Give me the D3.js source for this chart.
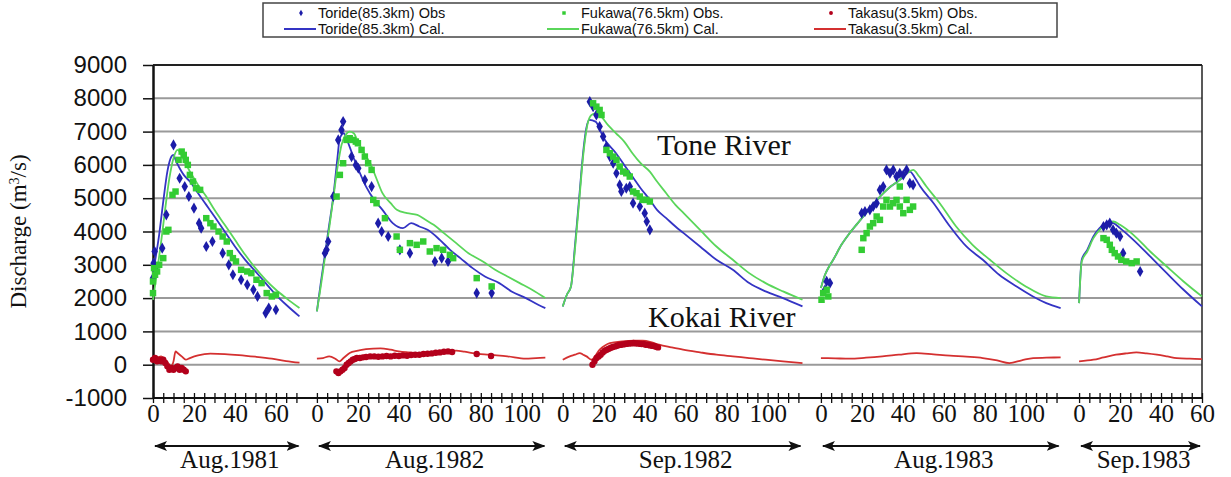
<!DOCTYPE html>
<html>
<head>
<meta charset="utf-8">
<script src="https://cdn.jsdelivr.net/npm/d3@7"></script>
<style>
  body { margin: 0; background: #fff; }
  svg { display: block; }
  .ylab text { font-family: "Liberation Sans", Arial, sans-serif; font-size: 24px; fill: #111; }
  .xlab text { font-family: "Liberation Serif", "Times New Roman", serif; font-size: 25px; fill: #111; }
  .serif { font-family: "Liberation Serif", "Times New Roman", serif; fill: #111; }
  .legend text { font-family: "Liberation Sans", Arial, sans-serif; font-size: 14.5px; fill: #111; }
</style>
</head>
<body>
<svg id="chart" width="1231" height="477"></svg>
<script>
// events on the common hour axis
const events = ['Aug.1981', 'Aug.1982', 'Sep.1982', 'Aug.1983', 'Sep.1983']
const eventOffset = [0, 80, 200, 326, 452]
const eventLength = [72, 112, 117, 117, 60]
const xTickLabels = [
  [0, 20, 40, 60],
  [0, 20, 40, 60, 80, 100],
  [0, 20, 40, 60, 80, 100],
  [0, 20, 40, 60, 80, 100],
  [0, 20, 40, 60]
]
const yTicks = [-1000, 0, 1000, 2000, 3000, 4000, 5000, 6000, 7000, 8000, 9000]

const seriesNames = ['Toride(85.3km) Obs', 'Fukawa(76.5km) Obs.', 'Takasu(3.5km) Obs.',
  'Toride(85.3km) Cal.', 'Fukawa(76.5km) Cal.', 'Takasu(3.5km) Cal.']

// [hour from event start, discharge m3/s], one list per event
const torideObs = [
  [[0, 2600], [0.3, 3050], [0.8, 3400], [1, 2900], [4.5, 3500], [6.5, 4500], [10, 6600], [13, 5600], [15.5, 5350],
    [17.5, 5050], [20, 4700], [22.5, 4250], [23.5, 4100], [26, 3550], [29, 3700], [34, 3350], [37, 3000], [39, 2700],
    [43, 2550], [46, 2400], [49, 2250], [51, 2050], [55, 1550], [56.5, 1700], [60, 1650]],
  [[3.9, 3350], [4.7, 3450], [5.5, 3700], [8, 5050], [10.4, 6750], [12, 7050], [12.8, 7300], [16.9, 6250], [19, 6000],
    [20.2, 5900], [23.4, 5550], [26.7, 5350], [29.9, 4250], [31.6, 4000], [34.8, 3850], [40.5, 3450], [45.4, 3350],
    [57.6, 3100], [60.9, 3200], [64, 3100], [78, 2150], [85.3, 2150]],
  [[13.2, 7900], [14.8, 7750], [16.4, 7500], [18, 7150], [19.7, 6850], [21.3, 6550], [23, 6250], [24.6, 6050],
    [26.2, 5750], [27.8, 5400], [28.6, 5200], [31, 5300], [32.7, 5350], [34.3, 4850], [37.6, 4750], [40, 4550],
    [41, 4300], [42.5, 4050]],
  [[2, 2250], [2.8, 2500], [4.4, 2450], [19.9, 4550], [21.5, 4600], [23.9, 4650], [25.5, 4750], [27.2, 4850],
    [28.8, 5250], [30.4, 5350], [32, 5850], [33.7, 5750], [35.3, 5850], [36.9, 5650], [38.5, 5750], [40.2, 5700],
    [41.8, 5850], [43.4, 5450], [45, 5400]],
  [[11.9, 4150], [13.5, 4200], [15, 4250], [16.6, 4050], [18.2, 3950], [20, 3850], [21.5, 3350], [29.8, 2800]]
]
const fukawaObs = [
  [[0, 2150], [0, 2500], [0.5, 2900], [1, 2700], [2, 2800], [3, 3000], [5, 3200], [6.5, 4000], [7.5, 4050], [9.5, 5100],
    [11, 5200], [12.5, 6150], [14, 6400], [15, 6300], [16, 6150], [17, 6000], [18, 5700], [19.5, 5500], [21, 5300],
    [23, 5250], [26, 4400], [28, 4250], [29.5, 4150], [32, 4000], [34, 3850], [36, 3700], [37.5, 3350], [39, 3200],
    [40.5, 3100], [43, 2850], [46, 2800], [48, 2750], [50.5, 2550], [53, 2450], [55.5, 2150], [58, 2050], [60, 2100]],
  [[9.6, 5050], [11.2, 5700], [12.8, 6050], [14.5, 6750], [16, 6800], [17.5, 6750], [19, 6700], [20, 6650],
    [21.8, 6450], [23.4, 6250], [25, 6050], [26.7, 5850], [27.5, 4950], [29.1, 4850], [33.2, 4400], [38.9, 3850],
    [40.5, 3450], [45.4, 3650], [48.7, 3600], [51.9, 3700], [55.1, 3400], [58.4, 3500], [61.6, 3450], [64.9, 3300],
    [66.5, 3200], [78, 2600], [85.3, 2350]],
  [[14.8, 7850], [16.4, 7750], [18, 7650], [18.9, 7500], [21.3, 6450], [23, 6350], [24.6, 6250], [26.2, 6150],
    [27.8, 5950], [29.5, 5800], [31, 5750], [32.7, 5650], [34.3, 5200], [36, 5150], [37.6, 5050], [39, 4950],
    [40.8, 4950], [42.5, 4900]],
  [[0.3, 1950], [1.1, 2150], [2.8, 2250], [3.6, 2050], [19.9, 3450], [20.7, 3800], [22.3, 3950], [23.9, 4150],
    [25.5, 4250], [27.2, 4450], [28.8, 4350], [30.4, 4750], [32, 4950], [33.7, 4750], [35.3, 4850], [36.9, 4950],
    [38.5, 4750], [38.5, 5350], [40.2, 4550], [41.8, 4950], [43.4, 4650], [45, 4750]],
  [[11.9, 3800], [13.5, 3750], [15, 3600], [16, 3450], [17.4, 3350], [19, 3250], [20.6, 3150], [23, 3100],
    [25.7, 3050], [28.1, 3100]]
]
const takasuObs = [
  [[0, 150], [1, 200], [2, 100], [3, 150], [4, 100], [5, 150], [6, 50], [7, -50], [8, -150], [9, -100], [10, -150],
    [11, -100], [12, -50], [13, -150], [14, -100], [15, -150], [16, -200]],
  [[9.5, -200], [10.5, -250], [11.5, -200], [12.5, -150], [13.5, -100], [14.5, 0], [15.5, 50], [16.5, 100],
    [17.5, 150], [18.5, 170], [19.5, 200], [21, 200], [22.5, 220], [24, 230], [26, 250], [28, 250], [30, 240],
    [32, 250], [34, 260], [36, 250], [38, 270], [40, 260], [42, 280], [44, 270], [46, 290], [48, 300], [50, 300],
    [52, 320], [54, 330], [56, 340], [58, 360], [60, 370], [62, 390], [64, 400], [66, 380], [78, 320], [85, 260]],
  [[14.5, 0], [15.5, 100], [16.5, 200], [17.5, 250], [18.5, 300], [19.5, 370], [20.5, 420], [21.5, 450],
    [22.5, 480], [23.5, 510], [24.5, 530], [25.5, 550], [26.5, 570], [27.5, 590], [28.5, 600], [29.5, 610],
    [30.5, 620], [31.5, 630], [32.5, 640], [33.5, 640], [34.5, 650], [35.5, 640], [36.5, 640], [37.5, 630],
    [38.5, 620], [39.5, 620], [40.5, 600], [41.5, 600], [42.5, 580], [43.5, 570], [44.5, 560], [45.5, 540],
    [46.5, 520]],
  [],
  []
]
const torideCal = [
  [[0, 2700], [1, 3100], [3, 3900], [5, 4900], [7, 5800], [9, 6250], [10, 6300], [11, 6150], [13, 5900], [15, 5700],
    [18, 5500], [22, 5150], [26, 4800], [30, 4450], [35, 4000], [40, 3550], [45, 3150], [50, 2800], [55, 2450],
    [60, 2100], [65, 1800], [71.5, 1450]],
  [[0, 1600], [2, 2500], [4, 3350], [6, 4200], [8, 5050], [10, 6200], [11, 6750], [12, 6900], [13, 6950], [15, 6700],
    [18, 6200], [21, 5750], [24, 5350], [28, 4950], [32, 4650], [37, 4250], [42, 4100], [46, 4250], [50, 4150],
    [54, 4050], [60, 3750], [65, 3450], [70, 3200], [76, 2900], [82, 2650], [89, 2450], [95, 2200], [102, 2000],
    [108, 1800], [111.5, 1700]],
  [[0, 1750], [2, 2100], [4, 2350], [6, 3600], [8, 5000], [10, 6400], [11.5, 7100], [13, 7350], [16, 7300],
    [20, 6800], [26, 6350], [30, 6000], [34, 5650], [38, 5300], [42.5, 4950], [46, 4650], [50.5, 4400], [55, 4150],
    [59, 3950], [67, 3550], [75, 3150], [83, 2850], [91, 2450], [99, 2200], [107.5, 2000], [117, 1750]],
  [[0, 2300], [2, 2700], [4, 2950], [6, 3150], [10, 3600], [14, 3950], [18, 4250], [22, 4550], [26, 4850],
    [30.5, 5150], [34, 5350], [38.5, 5550], [41, 5700], [43.5, 5800], [46, 5600], [48.5, 5350], [55, 4850],
    [63, 4150], [71, 3550], [79, 3150], [87, 2700], [95.5, 2350], [103.5, 2050], [110, 1850], [117, 1700]],
  [[0, 1850], [1.3, 3150], [4, 3450], [7, 3850], [10, 4100], [13, 4250], [15, 4300], [17, 4250], [20, 4100],
    [26.5, 3750], [34.7, 3250], [42.8, 2750], [51, 2250], [60, 1750]]
]
const fukawaCal = [
  [[0, 1950], [2, 2800], [4, 3700], [6, 4700], [8, 5600], [10, 6200], [12, 6450], [13, 6400], [15, 6150], [18, 5800],
    [22, 5400], [26, 5050], [30, 4650], [35, 4200], [40, 3750], [45, 3300], [50, 2900], [55, 2550], [60, 2250],
    [65, 2000], [71.5, 1700]],
  [[0, 1600], [2, 2400], [4, 3250], [6, 4100], [8, 5000], [10, 5900], [12, 6600], [14, 6900], [16, 7000], [18, 6950],
    [20, 6700], [23, 6350], [26, 6050], [29, 5600], [32, 5150], [36, 4850], [39, 4650], [44, 4550], [49, 4500],
    [53, 4350], [57, 4200], [62, 3950], [68, 3650], [74, 3350], [81, 3100], [87, 2850], [93, 2650], [99, 2450],
    [105, 2250], [111.5, 2000]],
  [[0, 1750], [2, 2100], [4, 2350], [6, 3500], [8, 4900], [10, 6300], [12, 7200], [14, 7500], [16, 7550], [18, 7500],
    [22, 7200], [26, 6950], [30, 6700], [34, 6350], [38, 6050], [42.5, 5800], [46, 5500], [50.5, 5150], [55, 4800],
    [59, 4550], [67, 4050], [75, 3550], [83, 3150], [91, 2750], [99, 2450], [107.5, 2200], [117, 1950]],
  [[0, 2300], [2, 2700], [4, 2950], [6, 3150], [10, 3600], [14, 3950], [18, 4250], [22, 4550], [26, 4850],
    [30.5, 5150], [34, 5350], [38.5, 5550], [42, 5750], [45, 5850], [48, 5650], [51.5, 5350], [58, 4850], [66, 4150],
    [74, 3600], [82.5, 3150], [90.5, 2750], [100, 2350], [110, 2050], [117, 2000]],
  [[0, 1850], [1.3, 3100], [4, 3400], [7, 3800], [10, 4050], [13, 4200], [16.6, 4300], [20, 4200], [26.5, 3900],
    [34.7, 3400], [42.8, 2950], [51, 2500], [60, 2050]]
]
const takasuCal = [
  [[0, 150], [2, 200], [4, 250], [6, 150], [8, 0], [9, -50], [10, 100], [11, 400], [12, 350], [14, 250], [16, 150],
    [18, 200], [22, 280], [28, 330], [35, 320], [42, 290], [50, 240], [58, 180], [65, 110], [71.5, 60]],
  [[0, 180], [3, 200], [6, 250], [9, 180], [11, 100], [13, 200], [16, 350], [20, 420], [24, 470], [31, 490], [36, 450],
    [40, 400], [45, 370], [49, 350], [57, 370], [63, 400], [68, 420], [72, 390], [76, 350], [84, 300], [93, 250],
    [102, 180], [107, 200], [111.5, 210]],
  [[0, 150], [3.4, 250], [6, 300], [8.3, 350], [10, 300], [11.6, 250], [14, 150], [18, 450], [23, 650], [29, 700],
    [35, 720], [39, 720], [43, 680], [47, 600], [53, 520], [58.7, 450], [67, 370], [75, 300], [83, 250], [91, 200],
    [99, 150], [107.5, 100], [117, 50]],
  [[0, 200], [7, 190], [14, 180], [22, 210], [30, 250], [38, 300], [46.7, 350], [55, 310], [63, 270], [71, 240],
    [79, 200], [86, 130], [92, 50], [98, 130], [103.6, 200], [110, 210], [117, 220]],
  [[0, 100], [7, 150], [12, 220], [18, 300], [23, 340], [28, 370], [33, 340], [38, 300], [43, 250], [47.7, 200],
    [54, 180], [60, 170]]
]

const colors = { toride: '#1c1ca8', torideLine: '#3434c4', fukawa: '#33cc33', fukawaLine: '#5ad65a', takasu: '#b3001b', takasuLine: '#d43030' }

const svg = d3.select('#chart')
const margin = { left: 153, right: 29, top: 65, bottom: 79 }
const W = 1231, H = 477

const x = d3.scaleLinear().domain([0, 512]).range([margin.left, W - margin.right])
const y = d3.scaleLinear().domain([-1000, 9000]).range([H - margin.bottom, margin.top])

// grid
svg.append('g')
  .selectAll('line')
  .data(yTicks.filter(v => v > -1000 && v < 9000))
  .join('line')
    .attr('x1', x(0)).attr('x2', x(512))
    .attr('y1', d => y(d)).attr('y2', d => y(d))
    .attr('stroke', '#9a9a9a').attr('stroke-width', 2)

// frame top and right
svg.append('line').attr('x1', x(0)).attr('x2', x(512)).attr('y1', y(9000)).attr('y2', y(9000))
  .attr('stroke', '#222').attr('stroke-width', 2)
svg.append('line').attr('x1', x(512)).attr('x2', x(512)).attr('y1', y(9000)).attr('y2', y(-1000))
  .attr('stroke', '#222').attr('stroke-width', 1.5)

// y axis
const yAxis = svg.append('g')
    .attr('class', 'ylab')
    .attr('transform', `translate(${x(0)},0)`)
    .call(d3.axisLeft(y).tickValues(yTicks).tickSize(10).tickSizeOuter(0).tickPadding(16)
      .tickFormat(d => String(d)))
yAxis.select('.domain').attr('stroke', '#111').attr('stroke-width', 2.5)
yAxis.selectAll('.tick line').attr('stroke', '#111').attr('stroke-width', 1.5)

// x axis: baseline, cross ticks every 5 h per event, labels
svg.append('line').attr('x1', x(0)).attr('x2', x(512)).attr('y1', y(-1000)).attr('y2', y(-1000))
  .attr('stroke', '#111').attr('stroke-width', 2)

const tickPos = []
events.forEach((e, i) => {
  for (let h = 0; h <= eventLength[i]; h += 5) tickPos.push(eventOffset[i] + h)
})
const xTicks = svg.append('g')
    .attr('transform', `translate(0,${y(-1000) - 5})`)
    .call(d3.axisBottom(x).tickValues(tickPos).tickSize(10).tickSizeOuter(0).tickFormat(''))
xTicks.select('.domain').remove()
xTicks.selectAll('.tick line').attr('stroke', '#111').attr('stroke-width', 1.3)

const labelPos = [], labelText = new Map()
xTickLabels.forEach((list, i) => list.forEach(v => {
  labelPos.push(eventOffset[i] + v)
  labelText.set(eventOffset[i] + v, v)
}))
const xLab = svg.append('g')
    .attr('class', 'xlab')
    .attr('transform', `translate(0,${y(-1000)})`)
    .call(d3.axisBottom(x).tickValues(labelPos).tickSize(0).tickPadding(6).tickFormat(d => labelText.get(d)))
xLab.select('.domain').remove()

// event arrows
const defs = svg.append('defs')
defs.append('marker').attr('id', 'arrowEnd')
    .attr('viewBox', '0 -5 13 10').attr('refX', 12).attr('refY', 0)
    .attr('markerWidth', 13).attr('markerHeight', 10).attr('markerUnits', 'userSpaceOnUse')
    .attr('orient', 'auto')
  .append('path').attr('d', 'M0,-5L13,0L0,5L3,0Z').attr('fill', '#111')
defs.append('marker').attr('id', 'arrowStart')
    .attr('viewBox', '0 -5 13 10').attr('refX', 1).attr('refY', 0)
    .attr('markerWidth', 13).attr('markerHeight', 10).attr('markerUnits', 'userSpaceOnUse')
    .attr('orient', 'auto')
  .append('path').attr('d', 'M13,-5L0,0L13,5L10,0Z').attr('fill', '#111')

const arrowY = 446
events.forEach((e, i) => {
  const x0 = x(eventOffset[i]), x1 = x(eventOffset[i] + eventLength[i])
  svg.append('line')
      .attr('x1', x0 + 2).attr('x2', x1 - 2).attr('y1', arrowY).attr('y2', arrowY)
      .attr('stroke', '#111').attr('stroke-width', 2)
      .attr('marker-start', 'url(#arrowStart)').attr('marker-end', 'url(#arrowEnd)')
  svg.append('text')
      .attr('class', 'serif')
      .attr('x', (x0 + x1) / 2 + 3).attr('y', 468)
      .attr('text-anchor', 'middle').attr('font-size', 25)
      .text(e)
})

// calculated lines
const plot = svg.append('g')
const calSets = [[torideCal, colors.torideLine], [fukawaCal, colors.fukawaLine], [takasuCal, colors.takasuLine]]
calSets.forEach(([set, col]) => {
  set.forEach((pts, i) => {
    const line = d3.line()
      .curve(d3.curveMonotoneX)
      .x(d => x(eventOffset[i] + d[0]))
      .y(d => y(d[1]))
    plot.append('path')
      .attr('d', line(pts))
      .attr('fill', 'none').attr('stroke', col).attr('stroke-width', 1.8)
  })
})

// observations
const obsSets = [
  [torideObs, colors.toride, d3.symbolDiamond, 36],
  [fukawaObs, colors.fukawa, d3.symbolSquare, 42],
  [takasuObs, colors.takasu, d3.symbolCircle, 32]
]
obsSets.forEach(([set, col, type, size]) => {
  set.forEach((pts, i) => {
    plot.append('g')
      .selectAll('path')
      .data(pts)
      .join('path')
        .attr('transform', d => `translate(${x(eventOffset[i] + d[0])},${y(d[1])})`)
        .attr('d', d3.symbol().type(type).size(size))
        .attr('fill', col)
  })
})

// river annotations
svg.append('text').attr('class', 'serif').attr('x', 657).attr('y', 155).attr('font-size', 30).text('Tone River')
svg.append('text').attr('class', 'serif').attr('x', 648).attr('y', 327).attr('font-size', 30).text('Kokai River')

// y title
const yTitle = svg.append('text')
    .attr('class', 'serif')
    .attr('transform', `translate(26,${(y(-1000) + y(9000)) / 2}) rotate(-90)`)
    .attr('text-anchor', 'middle').attr('font-size', 23)
yTitle.append('tspan').text('Discharge (m')
yTitle.append('tspan').attr('baseline-shift', 'super').attr('font-size', 14).text('3')
yTitle.append('tspan').text('/s)')

// legend
const legend = svg.append('g').attr('class', 'legend')
legend.append('rect').attr('x', 263).attr('y', 3).attr('width', 794).attr('height', 34)
  .attr('fill', '#fff').attr('stroke', '#444').attr('stroke-width', 1.5)
const legendCol = [318, 581, 848]
const legendRow = [13, 29]
const legendColors = [colors.toride, colors.fukawa, colors.takasu, colors.torideLine, colors.fukawaLine, colors.takasuLine]
seriesNames.forEach((name, k) => {
  const c = k % 3, r = Math.floor(k / 3)
  const tx = legendCol[c], ty = legendRow[r]
  if (r === 0) {
    legend.append('path')
      .attr('transform', `translate(${tx - 17},${ty})`)
      .attr('d', d3.symbol().type(obsSets[c][2]).size(12))
      .attr('fill', legendColors[k])
  } else {
    legend.append('line').attr('x1', tx - 34).attr('x2', tx - 2).attr('y1', ty).attr('y2', ty)
      .attr('stroke', legendColors[k]).attr('stroke-width', 2)
  }
  legend.append('text').attr('x', tx).attr('y', ty).attr('dy', '0.35em').text(name)
})
</script>
</body>
</html>
